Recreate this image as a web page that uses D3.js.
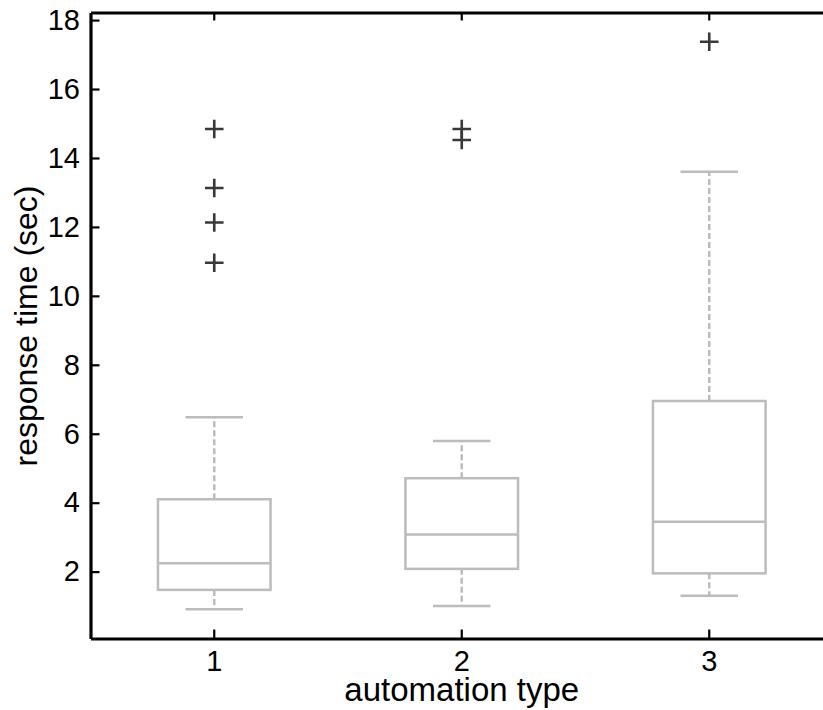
<!DOCTYPE html>
<html>
<head>
<meta charset="utf-8">
<script src="https://cdn.jsdelivr.net/npm/d3@7"></script>
<style>
  html, body { margin: 0; padding: 0; background: #fff; }
  svg { display: block; font-family: "Liberation Sans", Arial, sans-serif; }
</style>
</head>
<body>
<svg id="chart"></svg>
<script>
// data
const categories = ["1", "2", "3"];
const whiskerLow  = [0.91, 1.00, 1.30];
const q1          = [1.47, 2.08, 1.95];
const median      = [2.24, 3.08, 3.45];
const q3          = [4.10, 4.71, 6.95];
const whiskerHigh = [6.48, 5.79, 13.60];
const outliers    = [[14.84, 13.13, 12.13, 10.96], [14.84, 14.52], [17.37]];
const yTicks = [2, 4, 6, 8, 10, 12, 14, 16, 18];

let width = 823;
let height = 710;
let margin = ({top: 12.5, right: -10, bottom: 71.5, left: 90.5});

const svg = d3.select('#chart').attr('width', width).attr('height', height);

let x = d3.scaleBand()
  .domain(categories)
  .range([margin.left, width - margin.right])
  .padding(0);

let y = d3.scaleLinear()
  .domain([0.06, 18.22])
  .range([height - margin.bottom, margin.top]);

const cx = d => x(d) + x.bandwidth() / 2;
const boxHalf = x.bandwidth() * 0.2275;
const capHalf = x.bandwidth() * 0.116;

let boxes = categories.map((c, i) => ({
  name: c, lo: whiskerLow[i], q1: q1[i], med: median[i], q3: q3[i], hi: whiskerHigh[i]
}));

const boxColor = '#bcbcbc';
const lw = 2.5;

const g = svg.selectAll('.box')
  .data(boxes)
  .enter().append('g').attr('class', 'box');

// whiskers (dashed)
g.append('line')
  .attr('x1', d => cx(d.name)).attr('x2', d => cx(d.name))
  .attr('y1', d => y(d.q3)).attr('y2', d => y(d.hi))
  .attr('stroke', boxColor).attr('stroke-width', lw).attr('stroke-dasharray', '6,3');
g.append('line')
  .attr('x1', d => cx(d.name)).attr('x2', d => cx(d.name))
  .attr('y1', d => y(d.q1)).attr('y2', d => y(d.lo))
  .attr('stroke', boxColor).attr('stroke-width', lw).attr('stroke-dasharray', '6,3');

// caps
['hi', 'lo'].forEach(k => {
  g.append('line')
    .attr('x1', d => cx(d.name) - capHalf).attr('x2', d => cx(d.name) + capHalf)
    .attr('y1', d => y(d[k])).attr('y2', d => y(d[k]))
    .attr('stroke', boxColor).attr('stroke-width', lw);
});

// box
g.append('rect')
  .attr('x', d => cx(d.name) - boxHalf)
  .attr('y', d => y(d.q3))
  .attr('width', boxHalf * 2)
  .attr('height', d => y(d.q1) - y(d.q3))
  .attr('fill', 'none')
  .attr('stroke', boxColor).attr('stroke-width', lw);

// median
g.append('line')
  .attr('x1', d => cx(d.name) - boxHalf).attr('x2', d => cx(d.name) + boxHalf)
  .attr('y1', d => y(d.med)).attr('y2', d => y(d.med))
  .attr('stroke', boxColor).attr('stroke-width', lw);

// outliers as "+"
let outPts = [];
outliers.forEach((arr, i) => arr.forEach(v => outPts.push({name: categories[i], value: v})));
const pl = 9.3;
svg.selectAll('.outlier')
  .data(outPts)
  .enter().append('path')
  .attr('class', 'outlier')
  .attr('d', d => {
    const px = cx(d.name), py = y(d.value);
    return `M${px - pl},${py}H${px + pl}M${px},${py - pl}V${py + pl}`;
  })
  .attr('stroke', '#383838').attr('stroke-width', 2.6).attr('fill', 'none');

// axes (ticks pointing inwards)
let yAxis = g => g
  .attr("transform", `translate(${margin.left},0)`)
  .call(d3.axisLeft(y).tickValues(yTicks).tickSizeInner(-9).tickSizeOuter(0).tickPadding(10.5));

let yAxisRight = g => g
  .attr("transform", `translate(${width - margin.right},0)`)
  .call(d3.axisRight(y).tickValues(yTicks).tickSizeInner(-9).tickSizeOuter(0).tickFormat(''));

let xAxis = g => g
  .attr("transform", `translate(0,${height - margin.bottom})`)
  .call(d3.axisBottom(x).tickSizeInner(-9).tickSizeOuter(0).tickPadding(12));

let xAxisTop = g => g
  .attr("transform", `translate(0,${margin.top})`)
  .call(d3.axisTop(x).tickSizeInner(-8).tickSizeOuter(0).tickFormat(''));

[yAxis, yAxisRight, xAxis, xAxisTop].forEach(a => svg.append('g').attr('class', 'axis').call(a));

svg.selectAll('.axis .domain').attr('stroke', '#000').attr('stroke-width', 3.2);
svg.selectAll('.axis .tick line').attr('stroke', '#000').attr('stroke-width', 2.2);
svg.selectAll('.axis text')
  .attr('font-family', '"Liberation Sans", Arial, sans-serif')
  .attr('font-size', 29)
  .attr('fill', '#000');

// axis titles
svg.append('text')
  .attr('x', x('2') + x.bandwidth() / 2)
  .attr('y', 701)
  .attr('text-anchor', 'middle')
  .attr('font-size', 33)
  .text('automation type');

svg.append('text')
  .attr('transform', `translate(37,326) rotate(-90)`)
  .attr('text-anchor', 'middle')
  .attr('font-size', 32)
  .text('response time (sec)');
</script>
</body>
</html>
